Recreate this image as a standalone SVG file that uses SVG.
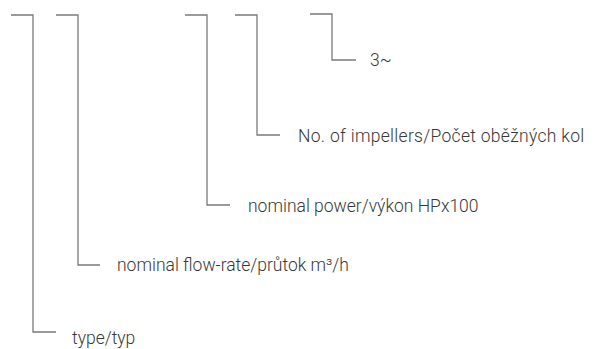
<svg xmlns="http://www.w3.org/2000/svg" width="595" height="349" viewBox="0 0 595 349">
<style>
.c{fill:none;stroke:#7a7a7a;stroke-width:1.3}
text{font-family:Roboto,"Liberation Sans",sans-serif;font-size:17.5px;font-weight:300;fill:#383838}
</style>
<rect width="595" height="349" fill="#fff"/>
<g id="connectors">
<polyline class="c" points="11,15 33,15 33,332 56,332"/>
<polyline class="c" points="56,15 78,15 78,265 100,265"/>
<polyline class="c" points="185,15 207,15 207,205 230,205"/>
<polyline class="c" points="235,15 257,15 257,135 280,135"/>
<polyline class="c" points="310,14 332,14 332,60 356,60"/>
</g>
<g id="n-type"><text x="72" y="344">type/typ</text></g>
<g id="n-flow"><text x="117" y="271">nominal flow-rate/průtok m³/h</text></g>
<g id="n-power"><text x="248" y="212">nominal power/výkon HPx100</text></g>
<g id="n-impellers"><text x="298" y="142" letter-spacing="0.3">No. of impellers/Počet oběžných kol</text></g>
<g id="n-phase"><text x="370" y="66">3~</text></g>
</svg>
